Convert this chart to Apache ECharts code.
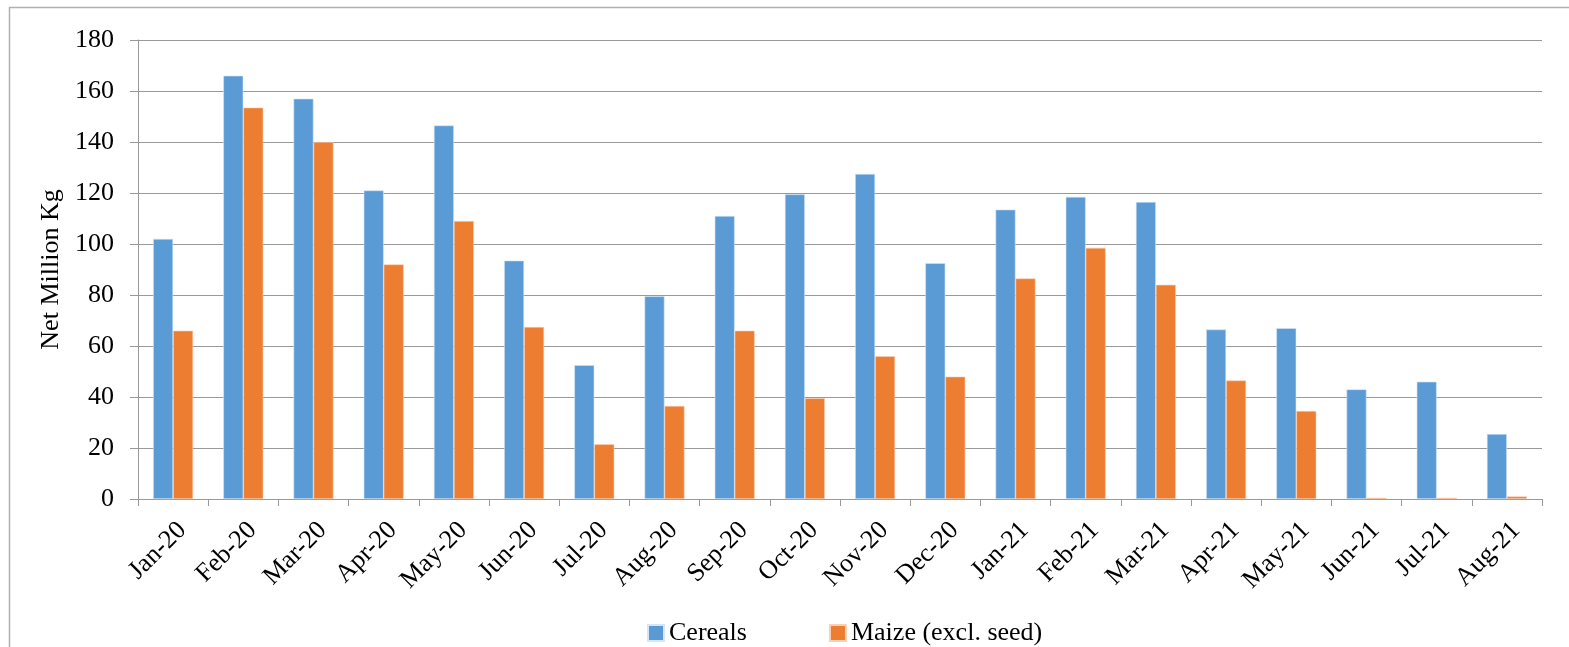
<!DOCTYPE html>
<html lang="en">
<head>
    <meta charset="UTF-8">
    <title>Cereals & Maize net imports</title>
    <script src="https://cdn.jsdelivr.net/npm/echarts@6/dist/echarts.min.js"></script>
    <style>
        html, body { margin: 0; padding: 0; background: #fff; }
        #chart { width: 1569px; height: 647px; }
    </style>
</head>
<body>
<div id="chart"></div>
<script>
  var MONTHS = ['Jan-20', 'Feb-20', 'Mar-20', 'Apr-20', 'May-20', 'Jun-20', 'Jul-20', 'Aug-20', 'Sep-20', 'Oct-20',
    'Nov-20', 'Dec-20', 'Jan-21', 'Feb-21', 'Mar-21', 'Apr-21', 'May-21', 'Jun-21', 'Jul-21', 'Aug-21'];
  var CEREALS = [102, 166, 157, 121, 146.5, 93.5, 52.5, 79.5, 111, 119.5,
    127.5, 92.5, 113.5, 118.5, 116.5, 66.5, 67, 43, 46, 25.5];
  var MAIZE = [66, 153.5, 140, 92, 109, 67.5, 21.5, 36.5, 66, 39.5,
    56, 48, 86.5, 98.5, 84, 46.5, 34.5, 0.5, 0.5, 1];
  var SERIES_NAMES = ['Cereals', 'Maize (excl. seed)'];

  var FONT = '"Liberation Serif", "Times New Roman", serif';

  var myChart = echarts.init(document.getElementById('chart'));

  myChart.setOption({
    animation: false,
    textStyle: { fontFamily: FONT, color: '#000' },
    // outer chart frame (only left and top edges are visible)
    graphic: [
      {
        type : 'rect',
        shape: { x: 9.5, y: 7.5, width: 1600, height: 700 },
        style: { fill: 'none', stroke: '#b0b0b0', lineWidth: 1.5 }
      }
    ],
    legend: {
      top      : 615,
      left     : 642,
      itemWidth: 16,
      itemHeight: 16,
      itemGap  : 82,
      icon     : 'rect',
      textStyle: { fontFamily: FONT, fontSize: 26, color: '#000' },
      data     : SERIES_NAMES
    },
    grid: {
      left  : 138,
      right : 27,
      top   : 40,
      bottom: 148
    },
    xAxis: {
      type     : 'category',
      data     : MONTHS,
      axisLine : { lineStyle: { color: '#999', width: 1 } },
      axisTick : { show: true, length: 7, lineStyle: { color: '#999' } },
      axisLabel: {
        rotate    : 45,
        margin    : 18,
        verticalAlign: 'top',
        fontSize  : 26,
        fontFamily: FONT,
        color     : '#000'
      }
    },
    yAxis: {
      type    : 'value',
      min     : 0,
      max     : 180,
      interval: 20,
      name    : 'Net Million Kg',
      nameLocation: 'middle',
      nameGap : 71,
      nameTextStyle: { fontFamily: FONT, fontSize: 26, color: '#000' },
      axisLine : { show: true, lineStyle: { color: '#999', width: 1 } },
      axisTick : { show: true, length: 8, lineStyle: { color: '#999' } },
      axisLabel: { margin: 24, fontSize: 26, fontFamily: FONT, color: '#000' },
      splitLine: { lineStyle: { color: '#999', width: 1 } }
    },
    series: [
      {
        name : SERIES_NAMES[0],
        type : 'bar',
        data : CEREALS,
        barWidth: 20,
        barGap: '0%',
        itemStyle: { color: '#5B9BD5', borderColor: '#d6e6f5', borderWidth: 0.6 }
      },
      {
        name : SERIES_NAMES[1],
        type : 'bar',
        data : MAIZE,
        barWidth: 20,
        barGap: '0%',
        itemStyle: { color: '#ED7D31', borderColor: '#f8d2b8', borderWidth: 0.6 }
      }
    ]
  });
</script>
</body>
</html>
